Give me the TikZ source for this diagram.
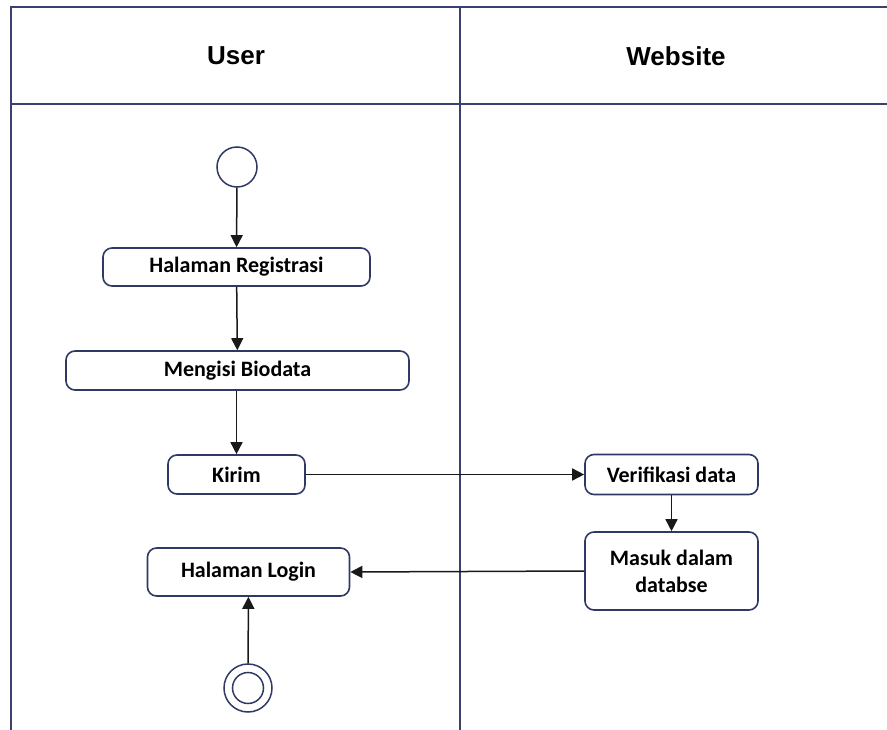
\documentclass[tikz,border=0pt]{standalone}
\usepackage{fontspec}
\setmainfont{Carlito}
\newfontfamily\headfont{Liberation Sans}
\usetikzlibrary{arrows.meta}
\definecolor{lane}{HTML}{3A4070}
\definecolor{boxline}{HTML}{2F3A64}
\tikzset{
  x=1pt, y=-1pt,
  lanestroke/.style={draw=lane, line width=1.8pt},
  action/.style={draw=boxline, line width=1.6pt, rounded corners=9pt, fill=white,
    font=\bfseries\fontsize{22}{27}\selectfont, align=center, inner sep=0pt},
  flow/.style={draw=black!90, line width=1.5pt, -{Triangle[length=12pt,width=12pt]}},
  laneTitle/.style={font=\headfont\bfseries\fontsize{26}{28}\selectfont},
}
\begin{document}
\begin{tikzpicture}
\useasboundingbox (0,0) rectangle (887,730);
% swimlane frame
\draw[lanestroke] (887,7) -- (11,7) -- (11,730);
\draw[lanestroke] (11,104) -- (887,104);
\draw[lanestroke] (460,7) -- (460,730);
\node[laneTitle] (userlane) at (236,56) {User};
\node[laneTitle] (weblane) at (676,56) {Website};

% start and end states
\node[draw=boxline, line width=1.5pt, circle, minimum size=40pt, inner sep=0pt] (start) at (237,167) {};
\node[draw=boxline, line width=1.5pt, circle, minimum size=48pt, inner sep=0pt] (finish) at (248,688) {};
\node[draw=boxline, line width=1.5pt, circle, minimum size=31pt, inner sep=0pt] (finishin) at (248,688) {};

% actions
\node[action, minimum width=267pt, minimum height=38pt] (reg) at (236.5,267) {Halaman Registrasi};
\node[action, minimum width=343pt, minimum height=39pt] (bio) at (237.5,370.5) {Mengisi Biodata};
\node[action, minimum width=137pt, minimum height=39pt] (kirim) at (236.5,474.5) {Kirim};
\node[action, minimum width=202pt, minimum height=48pt] (login) at (248.5,572) {Halaman Login};
\node[action, minimum width=173pt, minimum height=40pt] (verif) at (671.5,474.5) {Verifikasi data};
\node[action, minimum width=173pt, minimum height=78pt] (db) at (671.5,571) {Masuk dalam\\databse};

% control flow
\draw[flow] (start) -- (reg);
\draw[flow] (reg) -- (bio);
\draw[flow] (bio.south -| kirim.north) -- (kirim);
\draw[flow] (kirim) -- (verif);
\draw[flow] (verif) -- (db);
\draw[flow] (db.west) -- (login.east);
\draw[flow] (finish) -- (login);
\end{tikzpicture}
\end{document}
